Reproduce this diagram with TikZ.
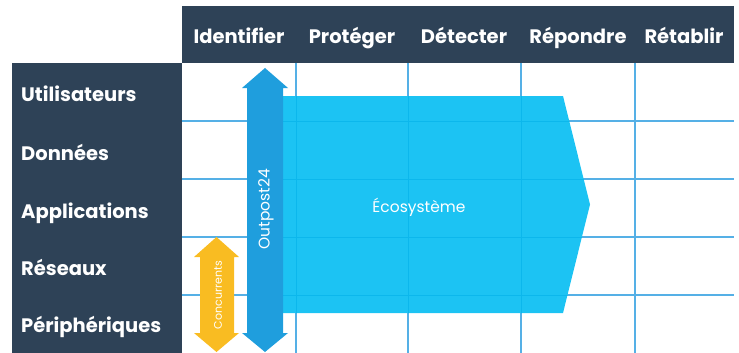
\documentclass[tikz,border=0pt]{standalone}
\usepackage{fontspec}
\setmainfont{Poppins}
\definecolor{darkbg}{HTML}{2E4257}
\definecolor{ecocyan}{HTML}{1CC3F3}
\definecolor{ecoline}{HTML}{0CB7EC}
\definecolor{outblue}{HTML}{1F9EDD}
\definecolor{concyellow}{HTML}{F9BC22}
\definecolor{gridblue}{HTML}{55B0E6}
\begin{document}
\begin{tikzpicture}[x=1pt,y=-1pt,
  headtxt/.style={text=white,font=\fontsize{19.5}{22}\selectfont\bfseries,anchor=base,inner sep=0pt},
  rowtxt/.style={text=white,font=\fontsize{19.5}{22}\selectfont\bfseries,anchor=base west,inner sep=0pt},
  gridline/.style={draw=gridblue,line width=1.1pt},
  arrowtxt/.style={text=white,rotate=90,inner sep=0pt}]
\useasboundingbox (0,0) rectangle (739,353);
% dark panels
\fill[darkbg] (182,6) rectangle (734,63);
\fill[darkbg] (12,63) rectangle (182,353);
% grid
\foreach \x in {296,408,521,635} \draw[gridline] (\x,63) -- (\x,353);
\foreach \y in {121,179,237,295} \draw[gridline] (182,\y) -- (734,\y);
% ecosystem pentagon
\fill[ecocyan] (283,96) -- (563,96) -- (590,204.5) -- (563,313) -- (283,313) -- cycle;
\begin{scope}
\clip (283,96) -- (563,96) -- (590,204.5) -- (563,313) -- (283,313) -- cycle;
\foreach \x in {296,408,521} \draw[ecoline,line width=1pt] (\x,63) -- (\x,353);
\foreach \y in {121,179,237,295} \draw[ecoline,line width=1pt] (182,\y) -- (734,\y);
\end{scope}
\node[text=white,font=\fontsize{15.5}{18}\selectfont,inner sep=0pt] (eco) at (419,207) {Écosystème};
% Outpost24 double arrow
\fill[outblue] (247,88) -- (242,88) -- (265,68) -- (288,88) -- (283,88) -- (283,333) -- (288,333) -- (265,352) -- (242,333) -- (247,333) -- cycle;
\node[arrowtxt,font=\fontsize{15.5}{18}\selectfont] (outpost) at (266,209) {Outpost24};
% Concurrents double arrow
\fill[concyellow] (200,257) -- (194,257) -- (216.5,237) -- (239,257) -- (234,257) -- (234,333) -- (239,333) -- (216.5,352) -- (194,333) -- (200,333) -- cycle;
\node[arrowtxt,font=\fontsize{11}{13}\selectfont] (conc) at (218,295) {Concurrents};
% column headers
\node[headtxt] (h1) at (239,44) {Identifier};
\node[headtxt] (h2) at (352,44) {Protéger};
\node[headtxt] (h3) at (464,44) {Détecter};
\node[headtxt] (h4) at (578,44) {Répondre};
\node[headtxt] (h5) at (684,44) {Rétablir};
% row labels
\node[rowtxt] (r1) at (21,102) {Utilisateurs};
\node[rowtxt] (r2) at (21,160) {Données};
\node[rowtxt] (r3) at (21,218) {Applications};
\node[rowtxt] (r4) at (21,275) {Réseaux};
\node[rowtxt] (r5) at (21,332) {Périphériques};
\end{tikzpicture}
\end{document}
